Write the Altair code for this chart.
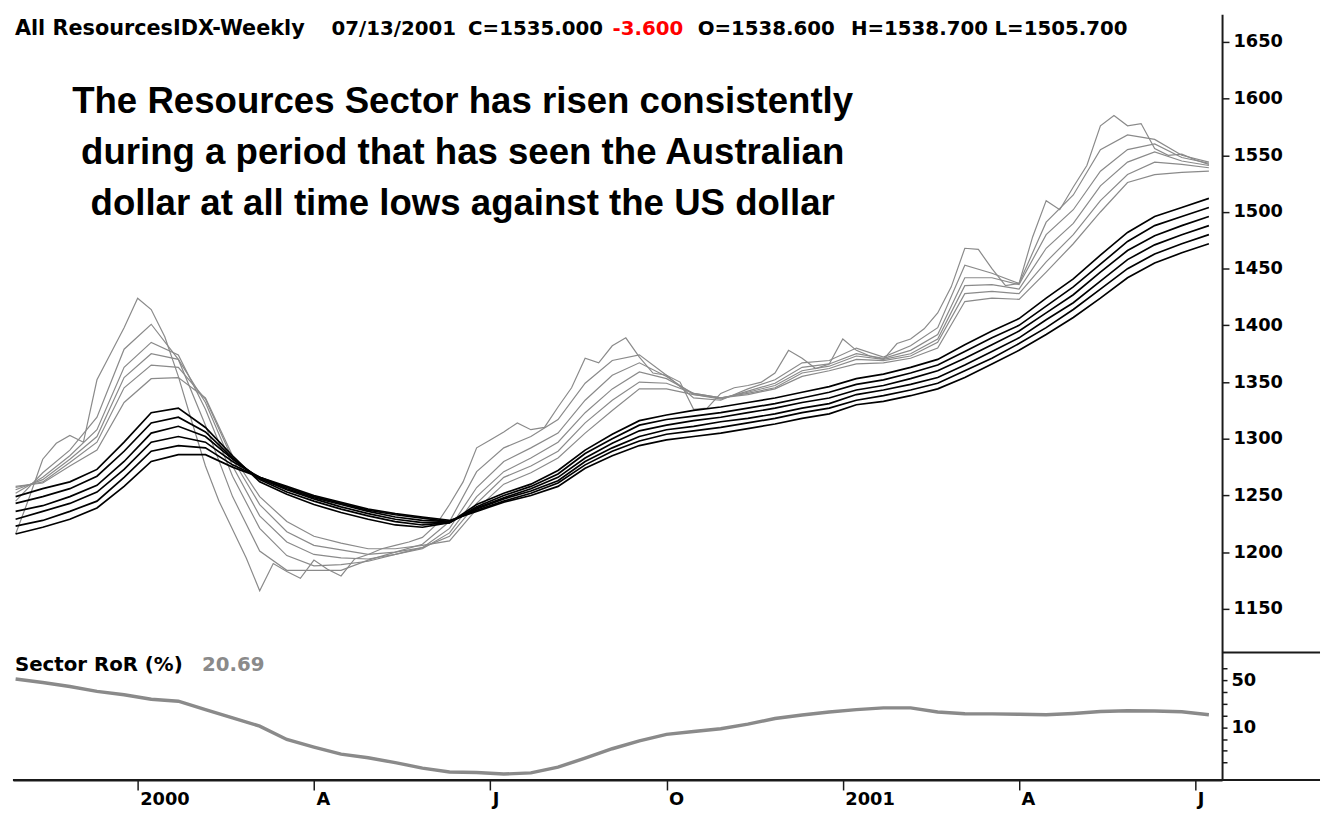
import altair as alt
import pandas as pd

# ---------------- data ----------------
START = "1999-11-05"          # first weekly bar (Friday)
N_WEEKS = 89                  # last bar 2001-07-13

# fastest short-term average, weekly
ema3 = [1216, 1248, 1282, 1296, 1303, 1297, 1352, 1375, 1398, 1424,
        1414, 1390, 1355, 1315, 1276, 1245, 1220, 1195, 1166, 1190,
        1183, 1177, 1193, 1185, 1179, 1194, 1198, 1203, 1206, 1209,
        1213, 1224, 1242, 1262, 1292, 1299, 1306, 1314, 1308, 1310,
        1328, 1345, 1371, 1367, 1382, 1389, 1372, 1358, 1356, 1350,
        1326, 1327, 1340, 1345, 1347, 1350, 1358, 1378, 1371, 1362,
        1366, 1388, 1378, 1373, 1370, 1384, 1388, 1397, 1411, 1434,
        1468, 1467, 1450, 1435, 1437, 1478, 1510, 1502, 1522, 1541,
        1576, 1585, 1576, 1578, 1556, 1550, 1551, 1546, 1542]

# other short-term averages, every second week
ema5 = [1245, 1270, 1290, 1319, 1379, 1401, 1370, 1312, 1249, 1201,
        1184, 1184, 1184, 1193, 1200, 1207, 1227, 1271, 1292, 1302,
        1317, 1349, 1369, 1374, 1356, 1336, 1334, 1344, 1352, 1367,
        1369, 1380, 1372, 1382, 1398, 1453, 1446, 1437, 1491, 1515,
        1555, 1568, 1564, 1550, 1544]
ema8 = [1252, 1266, 1285, 1308, 1363, 1385, 1374, 1326, 1267, 1221,
        1197, 1188, 1189, 1192, 1198, 1204, 1221, 1257, 1280, 1292,
        1305, 1334, 1356, 1367, 1355, 1339, 1335, 1342, 1349, 1363,
        1366, 1375, 1371, 1378, 1392, 1442, 1442, 1436, 1480, 1502,
        1536, 1555, 1560, 1548, 1543]
ema10 = [1255, 1264, 1282, 1302, 1354, 1375, 1370, 1332, 1276, 1232,
         1209, 1198, 1195, 1194, 1198, 1203, 1217, 1249, 1271, 1283,
         1297, 1323, 1344, 1359, 1353, 1340, 1336, 1341, 1347, 1360,
         1364, 1373, 1370, 1375, 1388, 1435, 1436, 1432, 1468, 1490,
         1523, 1544, 1553, 1545, 1541]
ema12 = [1257, 1262, 1279, 1297, 1345, 1365, 1363, 1335, 1282, 1242,
         1218, 1206, 1202, 1198, 1200, 1204, 1214, 1243, 1266, 1276,
         1289, 1314, 1334, 1350, 1349, 1340, 1336, 1340, 1345, 1358,
         1362, 1370, 1369, 1373, 1385, 1428, 1430, 1428, 1456, 1480,
         1510, 1533, 1544, 1542, 1539]
ema15 = [1258, 1261, 1276, 1290, 1332, 1353, 1354, 1336, 1285, 1249,
         1227, 1214, 1208, 1203, 1203, 1206, 1210, 1238, 1260, 1270,
         1283, 1305, 1325, 1344, 1344, 1339, 1336, 1339, 1344, 1355,
         1360, 1366, 1367, 1371, 1380, 1421, 1424, 1423, 1447, 1472,
         1500, 1526, 1533, 1535, 1536]

# long-term averages, every second week
ema30 = [1249, 1256, 1262, 1273, 1297, 1323, 1327, 1310, 1285, 1262,
         1251, 1242, 1235, 1229, 1224, 1222, 1226, 1242, 1252, 1260,
         1272, 1290, 1304, 1316, 1321, 1325, 1328, 1332, 1336, 1341,
         1346, 1353, 1357, 1363, 1370, 1383, 1395, 1406, 1424, 1441,
         1462, 1482, 1496, 1504, 1512]
ema35 = [1243, 1249, 1256, 1267, 1289, 1314, 1319, 1306, 1283, 1264,
         1253, 1245, 1238, 1232, 1227, 1224, 1226, 1240, 1250, 1258,
         1269, 1287, 1300, 1312, 1317, 1320, 1323, 1327, 1331, 1336,
         1341, 1348, 1352, 1358, 1365, 1377, 1389, 1400, 1417, 1434,
         1454, 1474, 1488, 1496, 1504]
ema40 = [1236, 1241, 1249, 1259, 1280, 1305, 1311, 1302, 1282, 1265,
         1255, 1247, 1240, 1234, 1229, 1226, 1226, 1239, 1248, 1256,
         1266, 1283, 1296, 1307, 1312, 1316, 1319, 1323, 1327, 1332,
         1336, 1343, 1347, 1353, 1360, 1371, 1383, 1395, 1411, 1427,
         1447, 1466, 1479, 1488, 1496]
ema45 = [1229, 1236, 1243, 1253, 1273, 1297, 1302, 1297, 1280, 1266,
         1256, 1248, 1242, 1236, 1231, 1228, 1227, 1238, 1247, 1254,
         1263, 1280, 1292, 1302, 1308, 1311, 1315, 1318, 1322, 1327,
         1331, 1339, 1343, 1348, 1354, 1365, 1377, 1389, 1405, 1420,
         1439, 1458, 1471, 1480, 1488]
ema50 = [1223, 1228, 1236, 1245, 1266, 1289, 1294, 1292, 1277, 1266,
         1257, 1249, 1243, 1237, 1233, 1230, 1227, 1237, 1245, 1252,
         1261, 1277, 1289, 1298, 1304, 1307, 1310, 1314, 1318, 1323,
         1327, 1334, 1338, 1343, 1349, 1360, 1371, 1384, 1398, 1414,
         1432, 1450, 1463, 1472, 1480]
ema60 = [1216, 1222, 1229, 1239, 1258, 1280, 1286, 1286, 1275, 1266,
         1258, 1250, 1244, 1238, 1234, 1231, 1228, 1236, 1244, 1250,
         1258, 1274, 1285, 1294, 1299, 1302, 1305, 1309, 1313, 1318,
         1322, 1330, 1333, 1338, 1344, 1354, 1366, 1378, 1392, 1407,
         1424, 1442, 1455, 1464, 1472]

# Sector rate of return (%), every second week
ror = [51, 48, 44.6, 40.5, 37.6, 33.8, 32.2, 25, 18, 11,
       -0.3, -6.8, -12.8, -15.8, -20, -24.7, -28, -28.4, -29.7, -28.7,
       -23.8, -16.2, -8.2, -1.5, 4, 6.4, 8.8, 12.7, 17.5, 20.4,
       23, 25, 26.5, 26.5, 23, 21.6, 21.4, 21, 20.6, 21.8,
       23.4, 24, 23.8, 23.2, 20.69]

price_ticks = [1150, 1200, 1250, 1300, 1350, 1400, 1450, 1500, 1550, 1600, 1650]
ror_ticks = [-20, -10, 0, 10, 20, 30, 40, 50, 60]
ror_labelled = [50, 10]
tick_dates = ["2000-01-07", "2000-04-07", "2000-07-07", "2000-10-06",
              "2001-01-05", "2001-04-06", "2001-07-06"]
tick_labels = ["2000", "A", "J", "O", "2001", "A", "J"]

header = [("All ResourcesIDX-Weekly", "black"), ("07/13/2001", "black"),
          ("C=1535.000", "black"), ("-3.600", "#ff0000"),
          ("O=1538.600", "black"), ("H=1538.700", "black"),
          ("L=1505.700", "black")]
title_lines = ["The Resources Sector has risen consistently",
               "during a period that has seen the Australian",
               "dollar at all time lows against the US dollar"]

# ---------------- tables ----------------
weeks = pd.date_range(START, periods=N_WEEKS, freq="7D")
biweeks = weeks[::2]

short_series = {"EMA 3": (weeks, ema3), "EMA 5": (biweeks, ema5),
                "EMA 8": (biweeks, ema8), "EMA 10": (biweeks, ema10),
                "EMA 12": (biweeks, ema12), "EMA 15": (biweeks, ema15)}
long_series = {"EMA 30": ema30, "EMA 35": ema35, "EMA 40": ema40,
               "EMA 45": ema45, "EMA 50": ema50, "EMA 60": ema60}

rows = []
for name, (dates, vals) in short_series.items():
    for d, v in zip(dates, vals):
        rows.append({"date": d.strftime("%Y-%m-%d"), "value": v, "series": name})
short_df = pd.DataFrame(rows)
rows = []
for name, vals in long_series.items():
    for d, v in zip(biweeks, vals):
        rows.append({"date": d.strftime("%Y-%m-%d"), "value": v, "series": name})
long_df = pd.DataFrame(rows)
ror_df = pd.DataFrame({"date": [d.strftime("%Y-%m-%d") for d in biweeks], "ror": ror})

# ---------------- styling ----------------
W = 1222
H_MAIN = 645
H_LOW = 129
AX = "#1a1a1a"
GREY = "#8a8a8a"
BOLD_FONT = "DejaVu Sans"

x_scale = alt.Scale(type="utc", domain=[
    alt.DateTime(year=1999, month=11, date=3, hours=15, utc=True),
    alt.DateTime(year=2001, month=7, date=19, hours=19, utc=True)])

tick_ms = [int(pd.Timestamp(d, tz="UTC").value // 10**6) for d in tick_dates]
label_expr = "''"
for ms, lab in zip(reversed(tick_ms), reversed(tick_labels)):
    label_expr = f"(+datum.value == {ms}) ? '{lab}' : ({label_expr})"

y_main = alt.Scale(domain=[1111.6, 1674.4], nice=False, zero=False)
y_low = alt.Scale(domain=[-34.8, 73.6], nice=False, zero=False)

axis_common = dict(orient="right", domainColor=AX, domainWidth=2, tickColor=AX,
                   tickWidth=1.5, labelFont=BOLD_FONT, labelFontWeight="bold",
                   labelFontSize=18, labelColor="black", grid=False, title=None,
                   labelPadding=4, labelFlush=False, labelOverlap=False, format="d")


def text_layer(txt, x, y, size, color="black", font=BOLD_FONT, align="left"):
    return alt.Chart(pd.DataFrame({"t": [txt]})).mark_text(
        font=font, fontSize=size, fontWeight="bold", color=color,
        align=align, baseline="alphabetic"
    ).encode(text="t:N", x=alt.value(x), y=alt.value(y))


# ---------------- main panel ----------------
short_lines = alt.Chart(short_df).mark_line(color=GREY, strokeWidth=1.2).encode(
    x=alt.X("date:T", scale=x_scale, axis=None),
    y=alt.Y("value:Q", scale=y_main,
            axis=alt.Axis(values=price_ticks, tickSize=7, **axis_common)),
    detail="series:N")
long_lines = alt.Chart(long_df).mark_line(color="black", strokeWidth=1.7).encode(
    x=alt.X("date:T", scale=x_scale, axis=None),
    y=alt.Y("value:Q", scale=y_main),
    detail="series:N")

header_x = [2, 322, 460, 606, 692, 847, 992]
header_sizes = [21, 20, 20, 20, 20, 20, 20]
header_layers = [text_layer(t, hx, 21, hs, color=c)
                 for (t, c), hx, hs in zip(header, header_x, header_sizes)]
title_y = [100, 151.5, 203]
title_layers = [text_layer(t, 454.5, ty, 37, font="Liberation Sans", align="center")
                for t, ty in zip(title_lines, title_y)]

main = alt.layer(short_lines, long_lines, *header_layers, *title_layers).properties(
    width=W, height=H_MAIN)

# ---------------- lower panel ----------------
ror_line = alt.Chart(ror_df).mark_line(color=GREY, strokeWidth=3.5).encode(
    x=alt.X("date:T", scale=x_scale,
            axis=alt.Axis(values=[alt.DateTime(year=int(d[:4]), month=int(d[5:7]),
                                               date=int(d[8:]), utc=True)
                                  for d in tick_dates],
                          labelExpr=label_expr, orient="bottom",
                          domainColor=AX, domainWidth=2, tickColor=AX,
                          tickWidth=1.5, tickSize=10, labelFont=BOLD_FONT,
                          labelFontWeight="bold", labelFontSize=18,
                          labelColor="black", labelAlign="left",
                          labelBaseline="top", labelPadding=1, labelOffset=2,
                          labelFlush=False, labelOverlap=False, grid=False,
                          title=None)),
    y=alt.Y("ror:Q", scale=y_low,
            axis=alt.Axis(values=ror_ticks, tickSize=5,
                          labelExpr="(" + " || ".join(
                              f"datum.value == {v}" for v in ror_labelled)
                          + ") ? datum.label : ''", **axis_common)))

sep_rule = alt.Chart(pd.DataFrame({"k": [0]})).mark_rule(
    color=AX, strokeWidth=2).encode(x=alt.value(W), x2=alt.value(W + 99),
                                    y=alt.value(0))
base_rule = alt.Chart(pd.DataFrame({"k": [0]})).mark_rule(
    color=AX, strokeWidth=2).encode(x=alt.value(0), x2=alt.value(W + 99),
                                    y=alt.value(H_LOW))

low = alt.layer(
    ror_line, sep_rule, base_rule,
    text_layer("Sector RoR (%)", 2, 19, 20),
    text_layer("20.69", 191, 19, 20, color=GREY),
).properties(width=W, height=H_LOW)

chart = alt.vconcat(main, low, spacing=0, bounds="flush").properties(
    padding={"left": 0, "top": 2, "right": 0, "bottom": 0},
    background="white",
).configure_view(strokeWidth=0, stroke=None)

chart.save("out.html", embed_options={"renderer": "svg", "actions": False})
